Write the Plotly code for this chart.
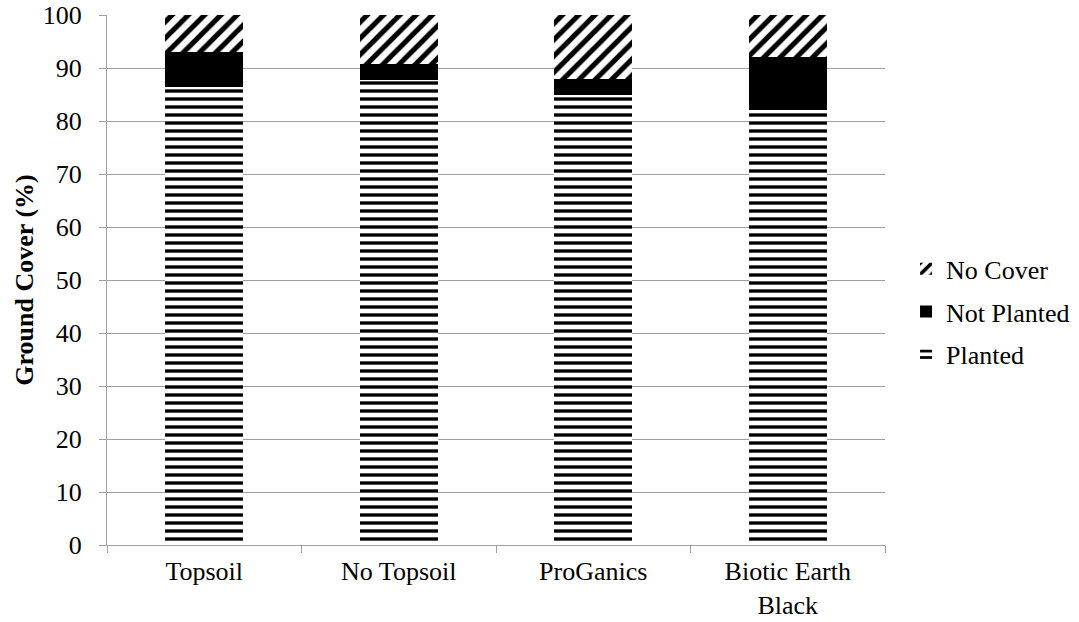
import plotly.graph_objects as go

categories = ["Topsoil", "No Topsoil", "ProGanics", "Biotic Earth<br>Black"]
planted = [86.5, 87.7, 85.0, 82.0]
not_planted = [6.5, 3.0, 3.0, 10.0]
no_cover = [7.0, 9.3, 12.0, 8.0]

y_ticks = list(range(0, 101, 10))

FONT = "Liberation Serif"
FS = 26

fig = go.Figure()

fig.add_trace(go.Bar(
    x=categories, y=planted, name="Planted", legendgroup="a", legendrank=3,
    marker=dict(color="white", line=dict(width=0),
                pattern=dict(shape="-", size=8, solidity=0.42, fgopacity=1,
                             fgcolor="black", bgcolor="white", fillmode="overlay")),
))
fig.add_trace(go.Bar(
    x=categories, y=not_planted, name="Not Planted", legendgroup="b", legendrank=2,
    marker=dict(color="black", line=dict(width=0)),
))
fig.add_trace(go.Bar(
    x=categories, y=no_cover, name="No Cover", legendgroup="c", legendrank=1,
    marker=dict(color="white", line=dict(width=0),
                pattern=dict(shape="/", size=11.5, solidity=0.45, fgopacity=1,
                             fgcolor="black", bgcolor="white", fillmode="overlay")),
))

fig.update_layout(
    width=1079, height=622,
    barmode="stack", bargap=0.6,
    plot_bgcolor="white", paper_bgcolor="white",
    margin=dict(l=107, r=194, t=15, b=77, autoexpand=False),
    font=dict(family=FONT, size=FS, color="black"),
    legend=dict(
        xref="container", x=0.8397, xanchor="left",
        y=0.44, yanchor="middle",
        traceorder="grouped", tracegroupgap=6,
        font=dict(family=FONT, size=FS, color="black"),
        itemwidth=30,
    ),
    xaxis=dict(
        showline=True, linecolor="#a0a0a0", linewidth=1,
        ticks="outside", tickson="boundaries", ticklen=7, tickcolor="#a0a0a0",
        showgrid=False, tickfont=dict(family=FONT, size=FS), automargin=False,
        ticklabelstandoff=3,
    ),
    yaxis=dict(
        range=[0, 100], tickvals=y_ticks,
        showline=True, linecolor="#a0a0a0", linewidth=1,
        ticks="outside", ticklen=7, tickcolor="#a0a0a0",
        showgrid=True, gridcolor="#a0a0a0", gridwidth=1,
        zeroline=False, automargin=False, ticklabelstandoff=12,
        title=dict(text="<b>Ground Cover (%)</b>", font=dict(family=FONT, size=FS), standoff=1),
        tickfont=dict(family=FONT, size=FS),
    ),
)

fig.write_html("out.html")
